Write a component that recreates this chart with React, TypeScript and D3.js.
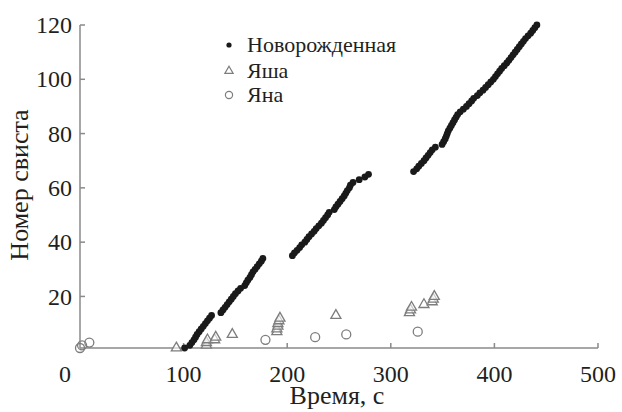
import React from "react";
import * as d3 from "d3";

// Новорожденная: time (s) of each whistle, whistle numbers 1..120
const newbornTimes = [
  101, 106, 108, 110, 111.5, 113, 115, 117, 119, 121, 123, 125, 127,
  136, 138, 140, 142, 144, 146, 148, 150, 152.5, 155,
  159, 160.5, 162, 164, 165.5, 167, 169, 171, 173, 175, 176.5,
  205, 207, 209.5, 212, 214, 217, 219, 221, 223.5, 226, 228, 230.5, 233, 235, 237, 239, 240.5,
  245.5, 247, 249, 251, 253, 255, 256.5, 258, 260, 261, 263.5, 269.5, 275, 278.5,
  322, 325, 327, 329.5, 332, 334, 336, 338, 340, 343,
  349.5, 351, 352.5, 353.5, 354.5, 355.5, 357, 358.5, 360, 361.5, 363, 364.5,
  367, 370, 373, 375.5, 378, 380, 383.5, 386, 389, 391.5,
  394, 396.5, 399, 401, 403, 405, 407, 409.5, 412, 414, 416,
  418, 420, 422, 424, 426, 428, 430, 432.5, 435, 437, 439, 441,
];
const newbornNumbers = d3.range(1, newbornTimes.length + 1);

// Яша
const yashaTimes = [93, 122, 122, 123, 130, 131, 147, 190, 190, 191, 191, 192, 193, 247, 318, 319, 320, 332, 340, 341, 342];
const yashaNumbers = [1, 2, 3, 4, 4, 5, 6, 7, 8, 9, 10, 11, 12, 13, 14, 15, 16, 17, 18, 19, 20];

// Яна
const yanaTimes = [0, 2, 9, 179, 227, 257, 326];
const yanaNumbers = [1, 2, 3, 4, 5, 6, 7];

const xTicks = [0, 100, 200, 300, 400, 500];
const yTicks = [20, 40, 60, 80, 100, 120];

const legendLabels = ["Новорожденная", "Яша", "Яна"];

const W = 622;
const H = 412;
const FONT = '"Liberation Serif", "DejaVu Serif", "Times New Roman", serif';
const AXIS = "#8a8a8a";
const TEXT = "#231f20";
const GRAY = "#7d7d7d";

export default function App() {
  const x = d3.scaleLinear().domain([0, 500]).range([80, 598]);
  const y = d3.scaleLinear().domain([1, 120]).range([348, 25]);

  const tri = d3.symbol().type(d3.symbolTriangle).size(44)() as string;

  const newborn = newbornTimes.map((t, i) => [t, newbornNumbers[i]]);
  const yasha = yashaTimes.map((t, i) => [t, yashaNumbers[i]]);
  const yana = yanaTimes.map((t, i) => [t, yanaNumbers[i]]);

  const ts = { fontFamily: FONT };

  return (
    <svg
      width={W}
      height={H}
      style={{ position: "absolute", left: 0, top: 0, background: "#fff", fontFamily: FONT }}
    >
      {/* axes */}
      <line x1={x(0)} x2={x(500)} y1={y(1)} y2={y(1)} stroke={AXIS} strokeWidth={1.5} />
      <line x1={x(0)} x2={x(0)} y1={y(1)} y2={y(120)} stroke={AXIS} strokeWidth={1.5} />
      {xTicks.slice(1).map((v) => (
        <line key={"xt" + v} x1={x(v)} x2={x(v)} y1={y(1)} y2={y(1) - 5} stroke={AXIS} strokeWidth={1.5} />
      ))}
      {yTicks.map((v) => (
        <line key={"yt" + v} x1={x(0)} x2={x(0) + 5} y1={y(v)} y2={y(v)} stroke={AXIS} strokeWidth={1.5} />
      ))}
      {xTicks.map((v) => (
        <text
          key={"xl" + v}
          x={v === 0 ? x(v) - 15 : x(v)}
          y={382}
          textAnchor="middle"
          fontSize={24}
          fill={TEXT}
          style={ts}
        >
          {v}
        </text>
      ))}
      {yTicks.map((v) => (
        <text
          key={"yl" + v}
          x={72}
          y={y(v)}
          dy="0.34em"
          textAnchor="end"
          fontSize={24}
          fill={TEXT}
          style={ts}
        >
          {v}
        </text>
      ))}
      <text x={337} y={404} textAnchor="middle" fontSize={26} fill={TEXT} style={ts}>
        Время, с
      </text>
      <text
        transform={`translate(28,185) rotate(-90)`}
        textAnchor="middle"
        fontSize={26}
        fill={TEXT}
        style={ts}
      >
        Номер свиста
      </text>

      {/* data */}
      {yana.map(([t, n], i) => (
        <circle key={"yn" + i} cx={x(t)} cy={y(n)} r={4.5} fill="none" stroke={GRAY} strokeWidth={1.3} />
      ))}
      {yasha.map(([t, n], i) => (
        <path
          key={"ys" + i}
          d={tri}
          transform={`translate(${x(t)},${y(n)})`}
          fill="#fff"
          fillOpacity={0.6}
          stroke={GRAY}
          strokeWidth={1.3}
        />
      ))}
      {newborn.map(([t, n], i) => (
        <circle key={"nb" + i} cx={x(t)} cy={y(n)} r={3.4} fill="#1a1a1a" />
      ))}

      {/* legend */}
      <g>
        <circle cx={229} cy={45} r={2.6} fill="#1a1a1a" />
        <path d={d3.symbol().type(d3.symbolTriangle).size(30)() as string} transform="translate(229,71)" fill="none" stroke={GRAY} strokeWidth={1.2} />
        <circle cx={229} cy={95} r={3.6} fill="none" stroke={GRAY} strokeWidth={1.2} />
        {legendLabels.map((l, i) => (
          <text key={l} x={247} y={[45, 71, 95][i]} dy="0.34em" fontSize={22} fill={TEXT} style={ts}>
            {l}
          </text>
        ))}
      </g>
    </svg>
  );
}
